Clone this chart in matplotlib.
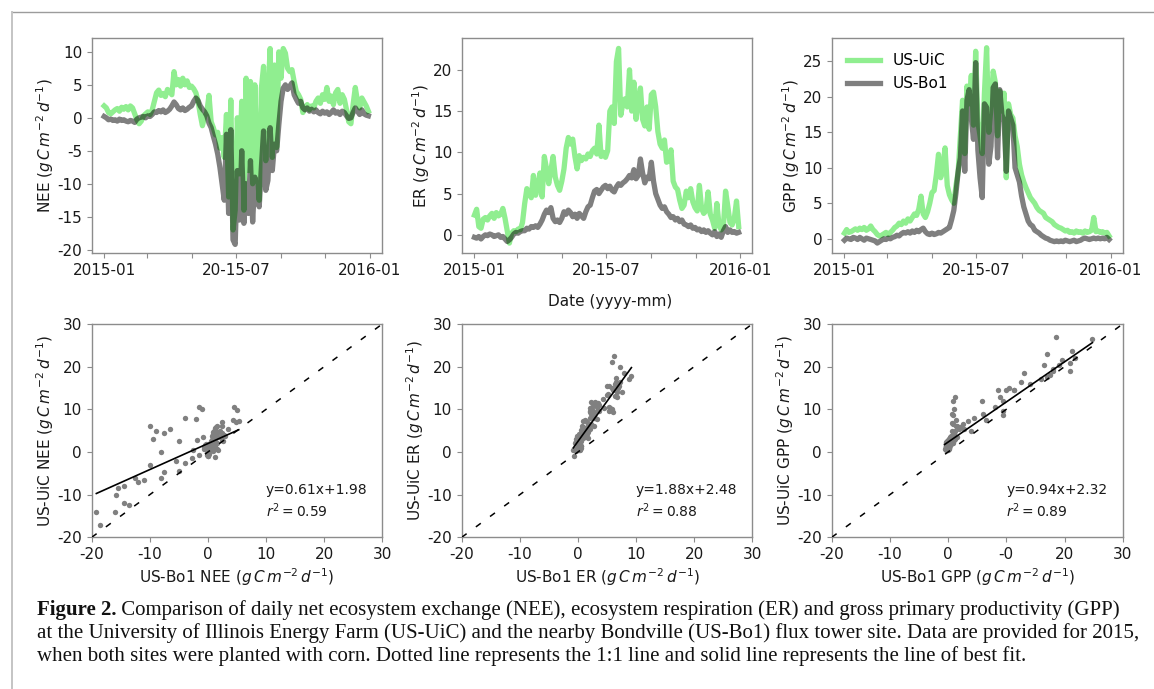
import matplotlib
matplotlib.use('Agg')
import matplotlib.pyplot as plt
from matplotlib.lines import Line2D
import pandas as pd

plt.rcParams['font.family'] = ['DejaVu Sans']
plt.rcParams['axes.unicode_minus'] = False
plt.rcParams['mathtext.fontset'] = 'dejavusans'

# ---------------- data (3-day samples through 2015) ----------------
dates = pd.date_range('2015-01-01', periods=122, freq='3D')

nee_bo1 = [0.2, 0.0, -0.3, -0.2,
           -0.4, -0.3, -0.5, -0.2, -0.4, -0.3, -0.5, -0.6, -0.4,
           -0.5, -0.7, -0.2, 0.0,
           0.1, 0.2, 0.0, 0.3, 0.2, 0.5,
           0.9, 0.8, 1.1, 0.9, 1.2, 0.8, 1.0, 1.3,
           1.8, 2.4, 2.0,
           1.4, 1.2, 1.5, 1.1, 1.3, 1.6, 1.8,
           2.5, 3.0, 2.6,
           1.8, 1.3, 0.9, 0.3,
           -0.8, -1.5,
           -2.8, -4.0, -5.5,
           -7.5, -10.0, -12.5,
           -2.5, -14.5, -1.8, -18.5, -19.2, -8.0, -15.5, -5.0, -16.0, -10.0, -14.5, -6.5,
           -15.8, -9.0, -12.0, -13.5, -7.5, -2.0, -11.0, -9.5, -1.5, -8.0, -4.0, -5.0,
           -1.0, 2.5, 4.5, 5.0, 4.3, 4.8, 5.3, 3.5, 2.8, 2.2, 2.5,
           1.5, 1.2, 1.5, 1.0, 1.3, 0.9, 1.2, 0.8, 0.6, 1.0,
           0.7, 0.9, 0.5, 0.8, 1.2, 0.7, 0.9, 0.5, 1.0, 0.8,
           0.3, -0.1, 0.0, 0.8, 1.5, 1.0, 0.5, 1.2, 0.6, 0.4, 0.3]

nee_uic = [1.8, 1.5, 0.8, 0.6, 0.9, 1.2, 1.4, 1.0, 1.6, 1.3, 1.7, 1.2, 1.8, 1.5, 0.6,
           -0.3, -0.9, -0.5, 0.3, 0.6, 0.9, 0.5, 1.2,
           2.5, 3.8, 4.2, 3.4, 3.7, 3.2, 4.3, 4.0, 3.5,
           7.0, 5.0, 5.8, 4.8, 6.0, 5.0, 5.6, 4.6, 4.8, 4.4, 3.8,
           2.5, 0.5, -1.2, 0.2, 0.8, 3.4, -0.6, -1.5, -2.6, -2.2, -4.6, -3.0, -6.0,
           0.5, -12.0, 2.7, -17.0, -14.0, 0.0, -8.5, 2.5, -14.0, 6.0, -8.0, 5.5,
           -10.0, 5.0, -7.0, -12.5, 4.5, 7.8, -6.5, 3.0, 10.5, -6.0, 8.0, -4.5,
           10.0, 6.0, 10.5, 9.8, 7.5, 7.0, 7.3, 5.5, 4.0, 3.5, 2.8,
           0.8, 1.5, 2.0, 1.2, 1.8, 1.5, 2.5, 3.0, 2.2, 3.5,
           2.8, 4.6, 2.5, 3.3, 2.0, 3.8, 4.3, 2.2, 3.5, 2.8,
           1.2, -0.6, -0.9, 2.0, 4.6, 2.5, 1.5, 3.0, 2.4, 1.8, 1.0]

er_bo1 = [-0.3, -0.4, -0.2, -0.5,
          -0.2, 0.0, -0.1, 0.1, 0.0, -0.2, -0.1, 0.0, -0.3,
          -0.2, -0.5, -0.8, -0.6, -0.3,
          0.1, 0.3, 0.2, 0.4, 0.5,
          0.5, 0.8, 0.7, 1.0, 0.9, 1.1, 0.9, 1.3,
          1.8, 2.5, 3.0, 2.7, 3.3,
          2.0, 1.6, 1.8, 1.5, 2.0,
          2.8, 2.5, 3.0, 2.7, 2.2, 2.5,
          2.0, 2.6, 2.3, 2.0, 2.8, 3.4,
          3.6, 4.5, 5.3, 5.5, 5.0,
          5.4, 5.8, 6.0, 5.6, 5.9,
          5.4, 5.2, 5.8, 6.2, 6.0,
          6.3, 6.5, 6.8, 7.2, 6.9,
          7.9, 6.8, 7.2, 9.2, 7.5,
          6.3, 7.0, 6.8, 8.8, 6.5,
          5.0, 4.3, 3.6, 3.2, 3.4,
          2.8, 2.5, 2.1, 2.2, 1.8,
          2.0, 1.6, 1.8, 1.3, 1.2,
          1.0, 1.2, 0.8, 0.9, 0.6,
          0.7, 0.4, 0.6, 0.3, 0.5,
          0.2, 0.0, 0.4, -0.2, 0.1,
          -0.3, 0.5, 1.0, 0.3, 0.6,
          0.3, 0.4, 0.2, 0.3]

er_uic = [2.4, 3.1, 1.0, 0.8, 1.9, 2.1, 1.8, 2.3, 2.6, 2.0, 2.7, 2.3, 2.5,
          3.2, 2.0, 0.5, -1.0, 0.2, 0.5, 0.4, 0.7, 0.6, 1.5,
          3.8, 5.6, 5.0, 4.5, 7.2, 4.8, 5.8, 7.5, 4.6,
          9.5, 8.0, 6.2, 7.8, 9.5, 7.0, 6.0, 5.4, 6.5, 8.0, 10.5,
          11.8, 11.0, 11.6, 9.5, 8.0, 9.6, 9.0, 9.4, 9.2, 9.8,
          9.5, 10.2, 10.5, 9.8, 13.3, 9.5, 10.0, 9.4, 10.2, 15.0,
          15.5, 13.5, 21.0, 22.6, 14.5, 16.0, 16.5, 15.5, 20.0, 15.0,
          18.5, 14.0, 16.5, 17.8, 14.0, 13.2, 15.5, 12.8, 17.0, 17.3,
          15.5, 12.5, 11.0, 10.5, 11.5, 8.8, 9.0, 10.3, 6.5, 5.8,
          5.5, 4.2, 3.2, 3.6, 5.3, 4.5, 5.6, 4.0, 3.3, 2.9,
          6.0, 3.2, 2.6, 2.9, 5.2, 2.5, 1.8, 0.8, 3.8, 1.2,
          0.6, 1.0, 5.3, 3.5, 1.5, 1.2, 2.0, 4.1, 1.0]

gpp_bo1 = [-0.2, 0.1, 0.0, -0.1,
           0.2, 0.1, -0.1, 0.2, 0.0, -0.2, 0.1, 0.0, -0.1,
           -0.2, -0.3, -0.6, -0.4, -0.2,
           0.0, -0.1, 0.1, 0.0, 0.2,
           0.3, 0.5, 0.4, 0.7, 0.9, 0.8, 1.0, 0.8,
           1.1, 0.9, 1.2, 1.0, 1.3,
           1.5, 1.0, 0.7, 0.6, 0.8,
           0.6, 0.7, 0.9, 0.8, 1.0, 1.2,
           1.4, 1.6, 2.7, 4.0, 6.5, 9.5,
           11.4, 18.0, 9.5, 19.5, 21.0,
           17.0, 14.0, 24.8, 12.5, 8.6,
           5.8, 19.0, 18.5, 10.5, 13.0,
           21.3, 21.8, 11.4, 21.0, 17.5,
           16.5, 9.5, 18.0, 17.0, 16.0,
           10.0, 9.0, 8.0, 6.0, 4.5,
           3.5, 2.5, 2.0, 1.8, 1.2,
           1.0, 0.8, 0.5, 0.3, 0.1,
           0.0, -0.2, -0.3, -0.4, -0.3,
           -0.4, -0.3, -0.4, -0.2, -0.3,
           -0.4, -0.3, -0.2, -0.4, -0.3,
           -0.2, 0.0, 0.1, 0.0, -0.1,
           0.0, 0.1, 0.0, 0.1, 0.0,
           0.1, 0.0, 0.2, -0.1]

gpp_uic = [0.8, 1.3, 0.9, 1.0, 1.2, 1.4, 1.2, 1.5, 1.3, 1.6, 1.2, 1.4, 1.8,
           1.3, 1.0, 0.6, 0.4, 0.5, 0.7, 0.9, 0.6, 0.9, 1.2,
           1.6, 1.8, 2.2, 2.0, 2.5, 2.2, 2.8, 2.5, 3.0,
           3.5, 3.3, 4.2, 6.0, 3.5, 3.0, 3.8, 5.0, 6.5, 6.8, 9.0,
           11.9, 8.6, 10.0, 12.8, 7.5, 6.2, 5.5, 5.0, 7.5, 9.5,
           14.5, 19.5, 12.0, 21.5, 19.0, 23.0, 16.0, 26.4, 16.5, 14.5,
           12.0, 20.5, 26.9, 15.0, 18.5, 23.6, 22.0, 14.5, 20.8, 18.0,
           20.5, 8.6, 19.0, 17.5, 17.0, 14.5, 13.0, 10.5, 9.0, 8.0,
           7.2, 6.5, 5.8, 5.4, 5.0, 4.4, 4.0, 3.8, 3.6, 3.0,
           2.8, 2.6, 2.4, 2.0, 1.8, 1.6, 1.5, 1.3, 1.1, 1.2,
           0.9, 1.0, 0.8, 1.1, 0.9, 1.0, 0.8, 1.1, 0.9, 1.0,
           1.2, 3.0, 1.0, 1.1, 0.9, 1.0, 0.8, 0.9, 0.4]

date_ticks = ['2015-01-01', '2015-03-01', '2015-05-01', '2015-07-01',
              '2015-09-01', '2015-11-01', '2016-01-01']
date_ticklabels = ['2015-01', '', '', '20-15-07', '', '', '2016-01']

fit_slopes = [0.61, 1.88, 0.94]
fit_intercepts = [1.98, 2.48, 2.32]
fit_r2 = [0.59, 0.88, 0.89]

names = ['NEE', 'ER', 'GPP']
scatter_xticklabels = [['-20', '-10', '0', '10', '20', '30'],
                       ['-20', '-10', '0', '10', '20', '30'],
                       ['-20', '-10', '0', '-0', '20', '30']]

caption_bold = 'Figure 2.'
caption_lines = [
    ' Comparison of daily net ecosystem exchange (NEE), ecosystem respiration (ER) and gross primary productivity (GPP)',
    'at the University of Illinois Energy Farm (US-UiC) and the nearby Bondville (US-Bo1) flux tower site. Data are provided for 2015,',
    'when both sites were planted with corn. Dotted line represents the 1:1 line and solid line represents the line of best fit.',
]

# ---------------- figure ----------------
W, H = 1154, 689
fig = plt.figure(figsize=(W / 100, H / 100), dpi=100)
fig.patch.set_facecolor('white')

def px_axes(l, t, r, b):
    return fig.add_axes([l / W, 1 - b / H, (r - l) / W, (b - t) / H])

UNIT = r'$g\,C\,m^{-2}\,d^{-1}$'
GREEN = '#90ee90'
SPINE = '#8c8c8c'
TXT = '#1a1a1a'

def style(ax):
    for s in ax.spines.values():
        s.set_color(SPINE)
        s.set_linewidth(1.0)
    ax.tick_params(colors=SPINE, labelcolor=TXT, labelsize=11, length=3.5, width=0.8)

top_pos = [(92, 38, 382, 253), (462.3, 38.5, 752.3, 253), (832.3, 38.5, 1122.7, 253)]
bot_pos = [(91.7, 324, 382.3, 537.3), (461.7, 324, 752.3, 537.3), (831.7, 324, 1122.7, 537.3)]
ylims = [(-20.5, 12.1), (-2.2, 23.8), (-2.0, 28.2)]
yticks = [[-20, -15, -10, -5, 0, 5, 10], [0, 5, 10, 15, 20], [0, 5, 10, 15, 20, 25]]
uic = [nee_uic, er_uic, gpp_uic]
bo1 = [nee_bo1, er_bo1, gpp_bo1]

t0 = pd.Timestamp('2015-01-01')
xl = (t0 + pd.Timedelta(days=-16.7), t0 + pd.Timedelta(days=381.7))

for k in range(3):
    ax = px_axes(*top_pos[k])
    ax.plot(dates, uic[k], color=GREEN, lw=3.8, label='US-UiC', solid_joinstyle='round')
    ax.plot(dates, bo1[k], color='black', alpha=0.5, lw=3.8, label='US-Bo1', solid_joinstyle='round')
    ax.set_xlim(*xl)
    ax.set_ylim(*ylims[k])
    ax.set_yticks(yticks[k])
    ax.set_yticklabels([str(v) for v in yticks[k]])
    ax.set_xticks(pd.to_datetime(date_ticks))
    ax.set_xticklabels(date_ticklabels)
    ax.set_ylabel(names[k] + ' (' + UNIT + ')', fontsize=11, color=TXT, labelpad=1)
    style(ax)
    if k == 2:
        ax.legend(loc='upper left', frameon=False, fontsize=11, handlelength=2.2,
                  borderaxespad=0.55, labelspacing=0.55)

fig.text(610 / W, 1 - 301 / H, 'Date (yyyy-mm)', fontsize=11, color=TXT, ha='center', va='center')

for k in range(3):
    ax = px_axes(*bot_pos[k])
    x = bo1[k]
    y = uic[k]
    ax.scatter(x, y, s=15, color='#808080', linewidths=0, zorder=2)
    xmin, xmax = min(x), max(x)
    ax.plot([xmin, xmax], [fit_slopes[k] * xmin + fit_intercepts[k], fit_slopes[k] * xmax + fit_intercepts[k]],
            color='black', lw=1.2, zorder=3)
    ax.plot([-20, 30], [-20, 30], color='black', lw=1.1, linestyle=(0, (4, 7.5)), zorder=3)
    ax.set_xlim(-20, 30)
    ax.set_ylim(-20, 30)
    ax.set_xticks([-20, -10, 0, 10, 20, 30])
    ax.set_xticklabels(scatter_xticklabels[k])
    ax.set_yticks([-20, -10, 0, 10, 20, 30])
    ax.set_yticklabels(['-20', '-10', '0', '10', '20', '30'])
    ax.set_xlabel('US-Bo1 ' + names[k] + ' (' + UNIT + ')', fontsize=11, color=TXT, labelpad=3)
    ax.set_ylabel('US-UiC ' + names[k] + ' (' + UNIT + ')', fontsize=11, color=TXT, labelpad=1)
    ax.text(10, -9.0, 'y=%.2fx+%.2f' % (fit_slopes[k], fit_intercepts[k]), fontsize=10, color=TXT, va='center')
    ax.text(10, -13.8, r'$r^2=%.2f$' % fit_r2[k], fontsize=10, color=TXT, va='center')
    style(ax)

# ---------------- page frame ----------------
fig.add_artist(Line2D([12 / W, 1], [1 - 11.5 / H, 1 - 11.5 / H], transform=fig.transFigure,
                      color='#9c9c9c', lw=1.0))
fig.add_artist(Line2D([12 / W, 12 / W], [0, 1 - 11.5 / H], transform=fig.transFigure,
                      color='#c4c4c4', lw=1.4))

# ---------------- caption ----------------
renderer = fig.canvas.get_renderer()
CAP_FONT = ['Liberation Serif', 'DejaVu Serif']

def line_widths(fs):
    tb = fig.text(0, 0, caption_bold, fontsize=fs, fontweight='bold', family=CAP_FONT)
    tr = fig.text(0, 0, caption_lines[0], fontsize=fs, family=CAP_FONT)
    t2 = fig.text(0, 0, caption_lines[1], fontsize=fs, family=CAP_FONT)
    w1 = tb.get_window_extent(renderer).width + tr.get_window_extent(renderer).width
    w2 = t2.get_window_extent(renderer).width
    tb.remove(); tr.remove(); t2.remove()
    return w1, w2

fs0 = 14.0
w1, w2 = line_widths(fs0)
fs = fs0 * (1098.0 + 1098.0) / (w1 + w2)

x0 = 37
baselines = [615, 638, 661]
tb = fig.text(x0 / W, 1 - baselines[0] / H, caption_bold, fontsize=fs, fontweight='bold',
              family=CAP_FONT, va='baseline', color='#111111')
wb = tb.get_window_extent(renderer).width
fig.text((x0 + wb) / W, 1 - baselines[0] / H, caption_lines[0], fontsize=fs, family=CAP_FONT,
         va='baseline', color='#111111')
for i in (1, 2):
    fig.text(x0 / W, 1 - baselines[i] / H, caption_lines[i], fontsize=fs, family=CAP_FONT,
             va='baseline', color='#111111')

fig.savefig('out.png', dpi=100, facecolor='white')
